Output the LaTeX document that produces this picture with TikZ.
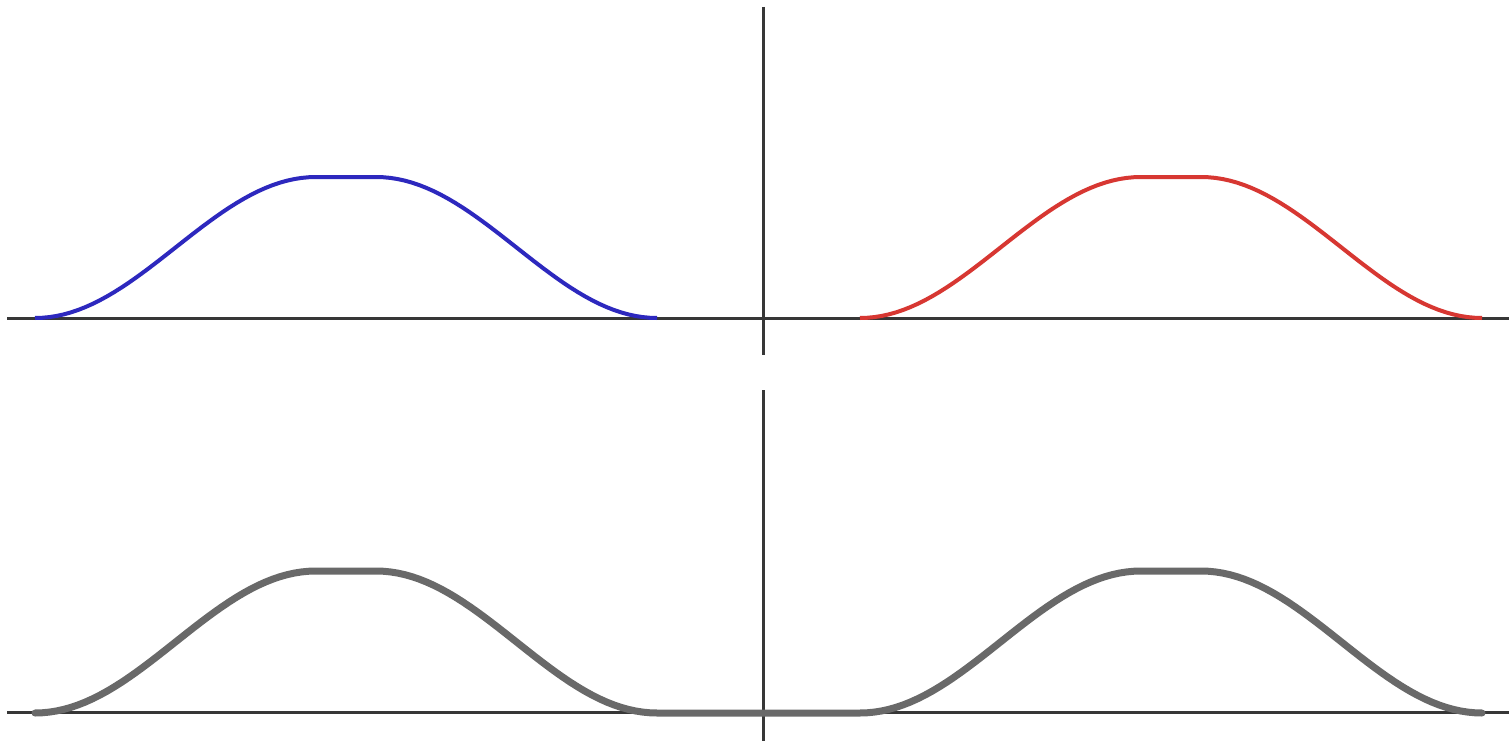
\documentclass[tikz,border=0pt]{standalone}
\definecolor{axisc}{RGB}{55,55,55}
\definecolor{bluec}{RGB}{45,40,190}
\definecolor{redc}{RGB}{215,55,50}
\definecolor{grayc}{RGB}{105,105,105}
\tikzset{
  axisline/.style={draw=axisc, line width=3pt},
  bluebump/.style={draw=bluec, line width=4pt, line join=round},
  redbump/.style={draw=redc, line width=4pt, line join=round},
  graybump/.style={draw=grayc, line width=7pt, line join=round, line cap=round},
}
\newcommand{\bumppath}[3]{% #1 start x, #2 baseline y, #3 height
  plot[domain=0:180, samples=40] ({#1+\x/180*281},{#2-#3*(1-cos(\x))/2})
  -- ({#1+341},{#2-#3})
  -- plot[domain=0:180, samples=40] ({#1+341+\x/180*281},{#2-#3*(1+cos(\x))/2})}
\begin{document}
\begin{tikzpicture}[x=1pt,y=-1pt]
\useasboundingbox (0,0) rectangle (1509,741);
\fill[white] (0,0) rectangle (1509,741);
% top panel
\draw[axisline] (7,318) -- (1509,318);
\draw[axisline] (763,7) -- (763,355);
\draw[bluebump] \bumppath{35}{318}{141};
\draw[redbump] \bumppath{860}{318}{141};
% bottom panel
\draw[axisline] (7,712) -- (1509,712);
\draw[axisline] (763,390) -- (763,741);
\draw[graybump]
  plot[domain=0:180, samples=40] ({35+\x/180*281},{713-142*(1-cos(\x))/2})
  -- (376,571)
  -- plot[domain=0:180, samples=40] ({376+\x/180*281},{713-142*(1+cos(\x))/2})
  -- (860,713)
  -- plot[domain=0:180, samples=40] ({860+\x/180*281},{713-142*(1-cos(\x))/2})
  -- (1201,571)
  -- plot[domain=0:180, samples=40] ({1201+\x/180*281},{713-142*(1+cos(\x))/2});
\end{tikzpicture}
\end{document}
